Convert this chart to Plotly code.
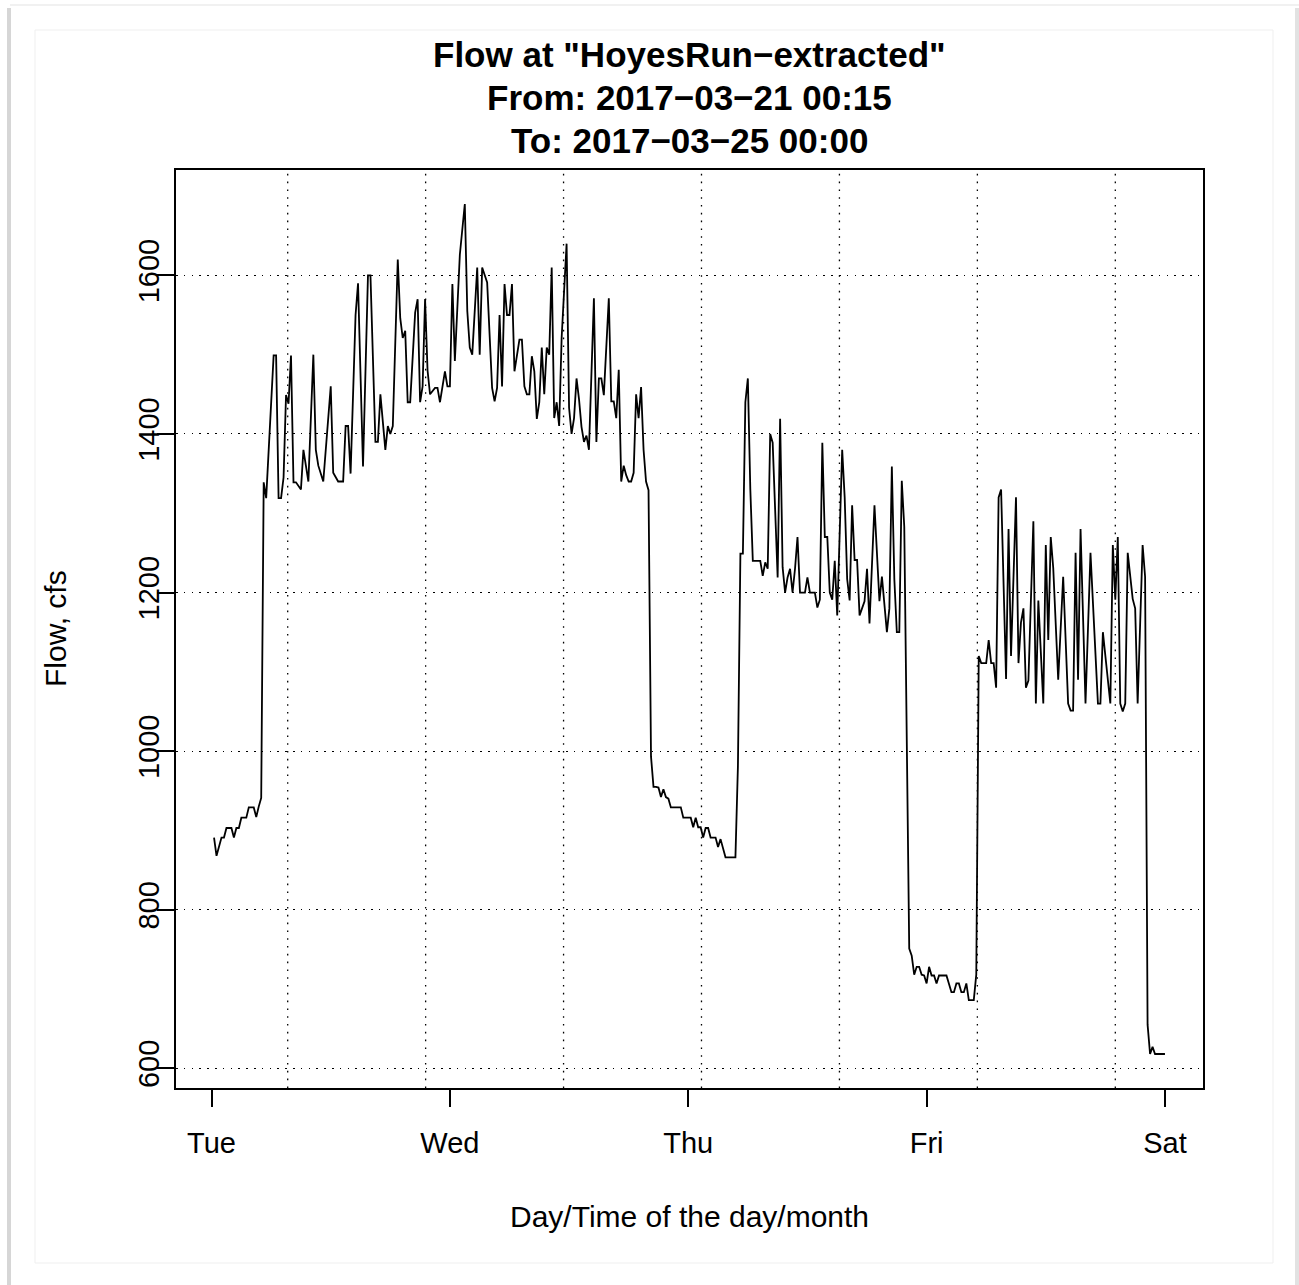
import pandas as pd
import plotly.graph_objects as go

obs = [0, 1, 3, 4, 5, 7, 8, 9, 10, 11, 13, 14, 16, 17, 18, 19, 20, 21, 24, 25, 26, 27, 28, 29, 30, 31, 32, 33, 35, 36,
       37, 38, 40, 41, 42, 44, 47, 48, 50, 52, 53, 54, 55, 57, 58, 60, 62, 63, 65, 66, 67, 69, 70, 71, 72, 74, 75, 76, 77, 78, 79, 81, 82, 83, 84, 85,
       86, 87, 89, 90, 91, 93, 94, 95, 96, 97, 99, 101, 102, 103, 104, 106, 107, 108, 110, 112, 113, 114, 115, 116, 117, 118, 119, 120, 121, 123, 124, 125, 126, 127, 128, 129, 130, 131, 132, 133, 134, 135, 136, 137, 138, 139, 140, 142,
       143, 144, 145, 146, 147, 148, 149, 150, 151, 153, 154, 155, 156, 157, 159, 160, 161, 162, 163, 164, 165, 166, 167, 168, 169, 170, 171, 172, 173, 174, 175, 176, 177, 178, 179, 180, 181, 182, 183, 184, 188, 189, 192, 193, 194, 195, 196, 197, 198, 199, 200, 202, 203, 204, 206, 210,
       211, 212, 213, 214, 215, 216, 217, 220, 221, 222, 223, 224, 225, 226, 227, 228, 229, 230, 231, 232, 233, 234, 235, 236, 238, 239, 240, 242, 243, 244, 245, 246, 247, 248, 249, 250, 251, 253, 254, 255, 256, 257, 258, 259, 260, 261, 262, 263, 264, 266, 267, 268, 269, 270, 271, 272, 273, 274, 275, 276, 277, 278, 280, 281, 282, 283, 284, 285, 286, 287, 288, 289, 290, 291, 292, 295, 296, 297, 298, 299, 300, 301, 302, 303, 304, 306, 307,
       308, 309, 311, 312, 313, 314, 315, 316, 317, 319, 320, 321, 323, 324, 325, 326, 327, 328, 330, 331, 332, 334, 335, 336, 337, 338, 340, 342, 344, 345, 346, 347, 348, 349, 351, 353, 356, 357, 358, 361, 362, 363, 364, 365, 366, 367, 368, 370, 371, 372, 374, 375, 376, 377, 378, 379, 383]

flow = [891, 868, 891, 891, 903, 903, 891, 903, 903, 916, 916, 929, 929, 917, 930, 941, 1339, 1319, 1499, 1499, 1319, 1319, 1345, 1449, 1438, 1499, 1339, 1339, 1330, 1380,
        1360, 1340, 1500, 1380, 1360, 1340, 1460, 1351, 1340, 1340, 1410, 1410, 1350, 1550, 1590, 1359, 1600, 1600, 1390, 1390, 1450, 1380, 1410, 1400, 1410, 1620, 1546, 1521, 1530, 1440, 1440, 1553, 1570, 1440, 1460, 1570,
        1480, 1450, 1458, 1458, 1440, 1479, 1460, 1460, 1589, 1492, 1626, 1690, 1555, 1509, 1500, 1610, 1500, 1610, 1591, 1458, 1441, 1458, 1550, 1460, 1589, 1550, 1550, 1589, 1479, 1519, 1519, 1460, 1450, 1450, 1498, 1479, 1419, 1440, 1509, 1450, 1509, 1500, 1610, 1420, 1440, 1410, 1521, 1640,
        1433, 1400, 1420, 1470, 1444, 1409, 1390, 1398, 1380, 1571, 1390, 1470, 1470, 1449, 1571, 1441, 1441, 1420, 1481, 1340, 1360, 1348, 1340, 1340, 1351, 1450, 1420, 1459, 1380, 1340, 1329, 993, 955, 955, 954, 942, 952, 942, 940, 929, 929, 916, 916, 904, 916, 904, 904, 891, 903, 903, 891, 891, 879, 889, 866, 866,
        981, 1249, 1249, 1440, 1470, 1330, 1240, 1240, 1221, 1238, 1230, 1400, 1389, 1304, 1219, 1419, 1232, 1200, 1219, 1230, 1200, 1230, 1270, 1200, 1200, 1219, 1200, 1200, 1181, 1191, 1389, 1270, 1270, 1200, 1191, 1240, 1171, 1380, 1320, 1217, 1190, 1310, 1241, 1241, 1171, 1180, 1189, 1230, 1161, 1310, 1250, 1189, 1220, 1180, 1150, 1180, 1359, 1217, 1150, 1150, 1341, 1283, 751, 742, 718, 728, 728, 718, 717, 707, 728, 717, 717, 707, 717, 717, 707, 696, 696, 707, 707, 696, 696, 707, 686, 686, 718,
        1120, 1111, 1111, 1140, 1111, 1111, 1080, 1320, 1330, 1091, 1280, 1120, 1320, 1111, 1162, 1180, 1080, 1089, 1290, 1060, 1190, 1060, 1260, 1140, 1270, 1231, 1090, 1220, 1060, 1051, 1051, 1250, 1090, 1280, 1060, 1250, 1060, 1060, 1150, 1060, 1260, 1191, 1270, 1060, 1050, 1060, 1250, 1192, 1180, 1060, 1260, 1220, 655, 618, 627, 618, 618]

start_time = "2017-03-21 00:15"
day_ticks = ["2017-03-21", "2017-03-22", "2017-03-23", "2017-03-24", "2017-03-25"]
day_labels = ["Tue", "Wed", "Thu", "Fri", "Sat"]
flow_ticks = [600, 800, 1000, 1200, 1400, 1600]
vgrid_hours = [7.667, 21.556, 35.444, 49.333, 63.222, 77.111, 91.0]

title_lines = ['Flow at "HoyesRun\u2212extracted"', 'From: 2017\u221203\u221221 00:15', 'To: 2017\u221203\u221225 00:00']
xlab = "Day/Time of the day/month"
ylab = "Flow, cfs"

W, H = 1299, 1285
FONT = "Liberation Sans, Arial, Helvetica, sans-serif"

t0 = pd.Timestamp(start_time)
times = t0 + pd.to_timedelta([15 * i for i in obs], unit="min")
tmin, tmax = times.min(), times.max()
span = tmax - tmin
xr = [(tmin - 0.04 * span).strftime("%Y-%m-%d %H:%M:%S"), (tmax + 0.04 * span).strftime("%Y-%m-%d %H:%M:%S")]
ymin, ymax = min(flow), max(flow)
yspan = ymax - ymin
yr = [ymin - 0.04 * yspan, ymax + 0.04 * yspan]

midnight = pd.Timestamp(day_ticks[0])

def px(x):
    return x / W

def py(y):
    return 1 - y / H

fig = go.Figure()
fig.add_trace(go.Scatter(x=[t.strftime("%Y-%m-%d %H:%M:%S") for t in times], y=flow, mode="lines",
                         line=dict(color="black", width=1.8), hoverinfo="skip"))

DOT = "1.6px,6.2px"
shapes = []
for h in vgrid_hours:
    xt = (midnight + pd.Timedelta(hours=h)).strftime("%Y-%m-%d %H:%M:%S")
    shapes.append(dict(type="line", xref="x", yref="y domain", x0=xt, x1=xt, y0=0, y1=1,
                       line=dict(color="black", width=1.3, dash=DOT), layer="below"))

# page frame (screenshot shadow / border)
shapes.append(dict(type="rect", xref="paper", yref="paper", x0=px(7), x1=px(11), y0=py(1285), y1=py(8),
                   line=dict(width=0), fillcolor="#d6d6d6", layer="below"))
shapes.append(dict(type="rect", xref="paper", yref="paper", x0=px(1295), x1=px(1299), y0=py(1285), y1=py(8),
                   line=dict(width=0), fillcolor="#e2e2e2", layer="below"))
shapes.append(dict(type="line", xref="paper", yref="paper", x0=px(10), x1=px(1299), y0=py(5), y1=py(5),
                   line=dict(width=1.5, color="#ededed"), layer="below"))
shapes.append(dict(type="rect", xref="paper", yref="paper", x0=px(35), x1=px(1273), y0=py(1263), y1=py(30),
                   line=dict(width=1, color="#efefef"), fillcolor="rgba(0,0,0,0)", layer="below"))

annotations = []
for i, (txt, yc) in enumerate(zip(title_lines, [55, 98, 140])):
    annotations.append(dict(text="<b>" + txt + "</b>", xref="paper", yref="paper", x=px(690), y=py(yc),
                            xanchor="center", yanchor="middle", showarrow=False,
                            font=dict(family=FONT, size=35, color="black")))
annotations.append(dict(text=xlab, xref="paper", yref="paper", x=px(689.5), y=py(1216),
                        xanchor="center", yanchor="middle", showarrow=False,
                        font=dict(family=FONT, size=30, color="black")))
annotations.append(dict(text=ylab, xref="paper", yref="paper", x=px(55), y=py(629), textangle=-90,
                        xanchor="center", yanchor="middle", showarrow=False,
                        font=dict(family=FONT, size=30, color="black")))

fig.update_layout(
    width=W, height=H, margin=dict(l=0, r=0, t=0, b=0, pad=0),
    paper_bgcolor="white", plot_bgcolor="white", showlegend=False,
    shapes=shapes, annotations=annotations,
    xaxis=dict(domain=[px(176), px(1203)], type="date", range=xr, automargin=False,
               tickmode="array", tickvals=day_ticks, ticktext=day_labels,
               ticks="outside", ticklen=17, tickwidth=1.5, tickcolor="black",
               showline=True, linecolor="black", linewidth=1.5, mirror=True,
               showgrid=False, zeroline=False, ticklabelstandoff=11,
               tickfont=dict(family=FONT, size=29, color="black")),
    yaxis=dict(domain=[py(1088), py(170)], range=yr, automargin=False,
               tickmode="array", tickvals=flow_ticks, ticktext=[str(v) for v in flow_ticks],
               tickangle=-90, ticks="outside", ticklen=17, tickwidth=1.5, tickcolor="black",
               showline=True, linecolor="black", linewidth=1.5, mirror=True,
               showgrid=True, gridcolor="black", gridwidth=1.3, griddash=DOT, zeroline=False,
               ticklabelstandoff=-13,
               tickfont=dict(family=FONT, size=29, color="black")),
)

fig.write_html("out.html")
